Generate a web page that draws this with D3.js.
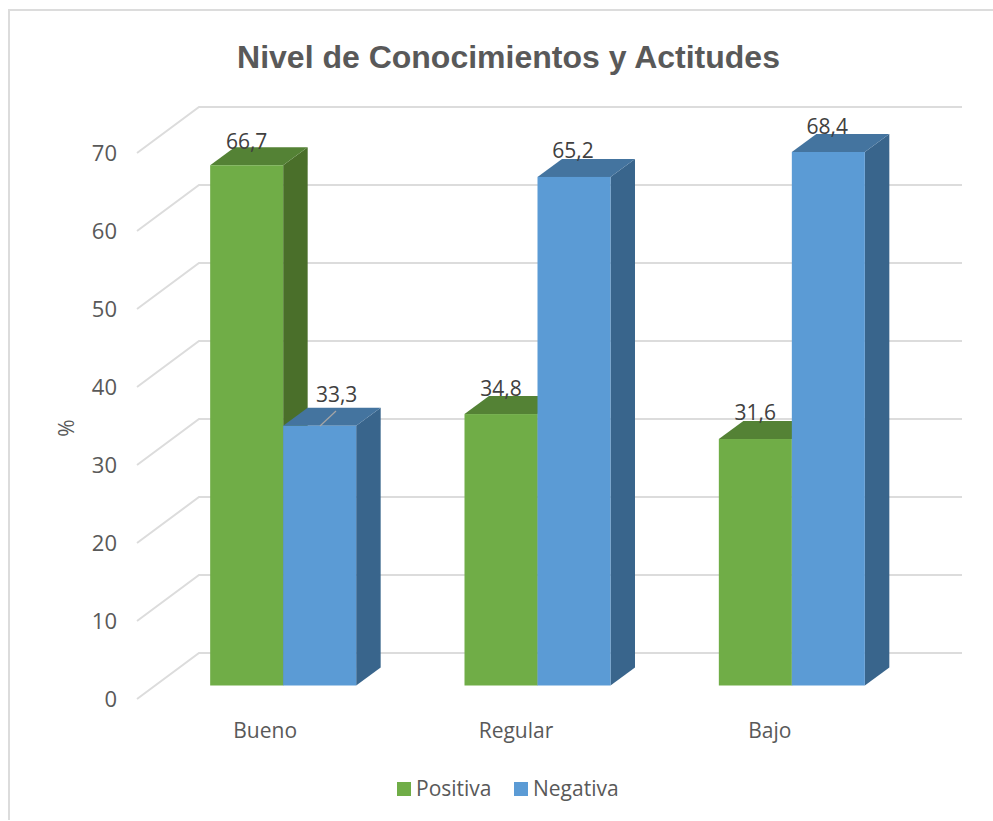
<!DOCTYPE html>
<html><head><meta charset="utf-8">
<script src="https://cdn.jsdelivr.net/npm/d3@7"></script>
<style>html,body{margin:0;padding:0;background:#fff}svg{display:block}</style>
</head><body><svg id="c" width="993" height="821"></svg>
<script>
const categories = ["Bueno","Regular","Bajo"];
const seriesNames = ["Positiva","Negativa"];
const positiva = [66.7,34.8,31.6];
const negativa = [33.3,65.2,68.4];
const labelsPositiva = ["66,7","34,8","31,6"];
const labelsNegativa = ["33,3","65,2","68,4"];
const yTicks = [0,10,20,30,40,50,60,70];
const colors = {Positiva:["#70ad47","#548235","#4a6f2a"],Negativa:["#5b9bd5","#44749f","#39658c"]};

const svg = d3.select("#c");
const font = "'Open Sans'";
const fs = 21;
svg.append("path").attr("d","M9,820V10H993").attr("fill","none").attr("stroke","#dcdcdc").attr("stroke-width",2);
svg.append("text").attr("x",508.5).attr("y",68).attr("text-anchor","middle")
  .attr("font-family","'Liberation Sans'").attr("font-weight","bold").attr("font-size",32)
  .attr("fill","#595959").text("Nivel de Conocimientos y Actitudes");

const y = d3.scaleLinear().domain([0,70]).range([685.5,139.5]);
const x0 = d3.scaleBand().domain(categories).range([156,919]);
const dx = 24.5, dy = -18;
const wallDx = 62, wallDy = -46;
const bw = 73;

const grid = svg.append("g");
yTicks.forEach(t=>{
  const yy = y(t)+13.5;
  grid.append("path")
    .attr("d",`M137,${yy}L${137+wallDx},${yy+wallDy}L962,${yy+wallDy}`)
    .attr("fill","none").attr("stroke","#dcdcdc").attr("stroke-width",2);
  svg.append("text").attr("x",117).attr("y",yy+8).attr("text-anchor","end")
    .attr("font-family",font).attr("font-size",fs+1).attr("fill","#595959").text(t);
});

function bar(g,x,v,cols){
  const yt = y(v), yb = y(0);
  g.append("path").attr("d",`M${x+bw},${yt}l${dx},${dy}L${x+bw+dx},${yb+dy}L${x+bw},${yb}Z`).attr("fill",cols[2]);
  g.append("path").attr("d",`M${x},${yt}l${dx},${dy}h${bw}l${-dx},${-dy}Z`).attr("fill",cols[1]);
  g.append("rect").attr("x",x).attr("y",yt).attr("width",bw).attr("height",yb-yt).attr("fill",cols[0]);
}
const bars = svg.append("g");
const catLabelShift = [-18,-21.5,-22];
categories.forEach((c,i)=>{
  const cx = x0(c)+x0.bandwidth()/2;
  const g = bars.append("g");
  bar(g,cx-bw,positiva[i],colors.Positiva);
  bar(g,cx,negativa[i],colors.Negativa);
  svg.append("text").attr("x",cx+catLabelShift[i]).attr("y",738).attr("text-anchor","middle")
    .attr("font-family",font).attr("font-size",fs).attr("fill","#595959").text(c);
});
svg.append("line").attr("x1",320).attr("y1",426).attr("x2",336).attr("y2",411)
  .attr("stroke","#a6a6a6").attr("stroke-width",1.2);
const posShift = [[0,2],[0,0],[0,-1]];
const negShift = [[17,-6],[-1,-1],[-1,0]];
categories.forEach((c,i)=>{
  const cx = x0(c)+x0.bandwidth()/2;
  svg.append("text").attr("x",cx-bw/2+posShift[i][0]).attr("y",y(positiva[i])+dy+posShift[i][1]).attr("text-anchor","middle")
    .attr("font-family",font).attr("font-size",fs).attr("fill","#404040").text(labelsPositiva[i]);
  svg.append("text").attr("x",cx+bw/2+negShift[i][0]).attr("y",y(negativa[i])+dy+negShift[i][1]).attr("text-anchor","middle")
    .attr("font-family",font).attr("font-size",fs).attr("fill","#404040").text(labelsNegativa[i]);
});
svg.append("text").attr("transform","translate(74,428) rotate(-90)").attr("text-anchor","middle")
  .attr("font-family",font).attr("font-size",fs).attr("fill","#595959").text("%");

[[397,"Positiva"],[514,"Negativa"]].forEach(([lx,n])=>{
  svg.append("rect").attr("x",lx).attr("y",782).attr("width",14).attr("height",14).attr("fill",colors[n][0]);
  svg.append("text").attr("x",lx+19).attr("y",796).attr("font-family",font).attr("font-size",fs)
    .attr("fill","#595959").text(n);
});
</script></body></html>
